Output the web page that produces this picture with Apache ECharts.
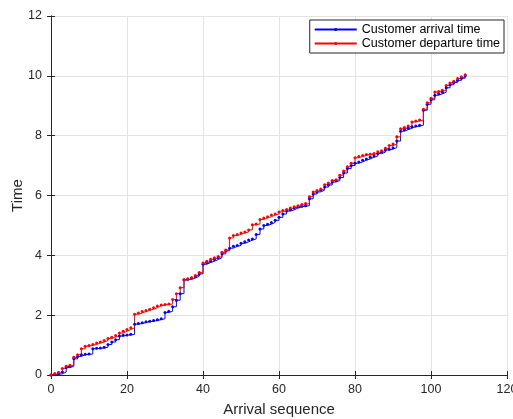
<!DOCTYPE html>
<html>
<head>
<meta charset="utf-8">
<style>
  html, body { margin: 0; padding: 0; background: #fff; }
  #chart { width: 513px; height: 419px; }
</style>
<script src="https://cdn.jsdelivr.net/npm/echarts@6/dist/echarts.min.js"></script>
</head>
<body>
<div id="chart"></div>
<script>
// arrival sequence index 0..109
const seq = Array.from({ length: 110 }, (_, i) => i);

const arrival = [
  0, 0.02, 0.04, 0.10, 0.25, 0.29, 0.54, 0.62, 0.68, 0.69,
  0.70, 0.88, 0.89, 0.90, 0.93, 1.02, 1.10, 1.18, 1.30, 1.33,
  1.34, 1.36, 1.70, 1.72, 1.75, 1.78, 1.80, 1.82, 1.85, 1.88,
  2.09, 2.13, 2.28, 2.50, 2.72, 3.18, 3.20, 3.24, 3.30, 3.38,
  3.70, 3.76, 3.80, 3.86, 3.92, 4.05, 4.15, 4.24, 4.30, 4.33,
  4.40, 4.45, 4.51, 4.55, 4.70, 4.88, 5.00, 5.04, 5.10, 5.17,
  5.27, 5.38, 5.48, 5.52, 5.58, 5.62, 5.64, 5.66, 5.89, 6.05,
  6.12, 6.18, 6.28, 6.35, 6.45, 6.50, 6.60, 6.75, 6.90, 7.00,
  7.08, 7.12, 7.18, 7.22, 7.28, 7.32, 7.40, 7.45, 7.52, 7.55,
  7.60, 7.82, 8.15, 8.20, 8.25, 8.30, 8.32, 8.35, 8.85, 9.05,
  9.20, 9.35, 9.40, 9.45, 9.60, 9.70, 9.78, 9.85, 9.92, 10.00
];

const departure = [
  0, 0.05, 0.09, 0.22, 0.29, 0.33, 0.59, 0.68, 0.88, 0.96,
  0.99, 1.02, 1.07, 1.10, 1.15, 1.22, 1.26, 1.32, 1.40, 1.46,
  1.52, 1.58, 2.03, 2.07, 2.12, 2.16, 2.20, 2.25, 2.31, 2.34,
  2.36, 2.37, 2.52, 2.72, 2.92, 3.18, 3.22, 3.25, 3.33, 3.43,
  3.74, 3.80, 3.87, 3.92, 3.96, 4.10, 4.18, 4.58, 4.66, 4.70,
  4.75, 4.78, 4.85, 5.02, 5.05, 5.20, 5.25, 5.29, 5.35, 5.38,
  5.45, 5.50, 5.53, 5.58, 5.62, 5.66, 5.70, 5.73, 5.96, 6.12,
  6.17, 6.22, 6.36, 6.42, 6.50, 6.53, 6.68, 6.82, 6.96, 7.08,
  7.26, 7.30, 7.34, 7.37, 7.38, 7.40, 7.46, 7.50, 7.58, 7.67,
  7.72, 7.96, 8.23, 8.27, 8.32, 8.46, 8.49, 8.52, 8.88, 9.10,
  9.25, 9.46, 9.48, 9.52, 9.68, 9.76, 9.82, 9.91, 9.97, 10.04
];

const seriesNames = ["Customer arrival time", "Customer departure time"];
const colors = ["#0000ff", "#ff0000"];
const axisColor = "#262626";
const font = "'Liberation Sans', Arial, sans-serif";

const chart = echarts.init(document.getElementById("chart"));

const boxAxis = {
  type: "value",
  axisLine: { show: true, lineStyle: { color: axisColor, width: 1 } },
  axisTick: { show: true, inside: true, length: 4, lineStyle: { color: axisColor } },
  axisLabel: { show: false },
  splitLine: { show: false }
};

chart.setOption({
  animation: false,
  color: colors,
  grid: { left: 51, right: 6, top: 16, bottom: 44, containLabel: false, outerBoundsMode: "none" },
  legend: {
    data: seriesNames,
    orient: "vertical",
    right: 9,
    top: 20,
    padding: [3, 4, 3, 4],
    itemGap: 1,
    itemWidth: 42,
    itemHeight: 4,
    backgroundColor: "#fff",
    borderColor: axisColor,
    borderWidth: 1,
    borderRadius: 0,
    textStyle: { fontFamily: font, fontSize: 12.5, color: "#000" }
  },
  xAxis: [
    {
      type: "value",
      min: 0,
      max: 120,
      interval: 20,
      name: "Arrival sequence",
      nameLocation: "middle",
      nameGap: 27,
      nameMoveOverlap: false,
      nameTextStyle: { fontFamily: font, fontSize: 15, color: axisColor },
      axisLine: { show: true, onZero: false, lineStyle: { color: axisColor, width: 1 } },
      axisTick: { show: true, inside: true, length: 4, lineStyle: { color: axisColor } },
      axisLabel: { fontFamily: font, fontSize: 12.5, color: axisColor, margin: 8 },
      splitLine: { show: true, lineStyle: { color: "#e3e3e3", width: 1 } }
    },
    Object.assign({}, boxAxis, { min: 0, max: 120, interval: 20, position: "top" })
  ],
  yAxis: [
    {
      type: "value",
      min: 0,
      max: 12,
      interval: 2,
      name: "Time",
      nameLocation: "middle",
      nameGap: 26,
      nameMoveOverlap: false,
      nameTextStyle: { fontFamily: font, fontSize: 15, color: axisColor },
      axisLine: { show: true, onZero: false, lineStyle: { color: axisColor, width: 1 } },
      axisTick: { show: true, inside: true, length: 4, lineStyle: { color: axisColor } },
      axisLabel: { fontFamily: font, fontSize: 12.5, color: axisColor, margin: 9 },
      splitLine: { show: true, lineStyle: { color: "#e3e3e3", width: 1 } }
    },
    Object.assign({}, boxAxis, { min: 0, max: 12, interval: 2, position: "right" })
  ],
  series: [
    {
      name: seriesNames[0],
      type: "line",
      step: "end",
      data: seq.map((x, i) => [x, arrival[i]]),
      symbol: "circle",
      symbolSize: 3,
      lineStyle: { width: 1, color: colors[0] },
      itemStyle: { color: colors[0] }
    },
    {
      name: seriesNames[1],
      type: "line",
      step: "end",
      data: seq.map((x, i) => [x, departure[i]]),
      symbol: "circle",
      symbolSize: 3,
      lineStyle: { width: 1, color: colors[1] },
      itemStyle: { color: colors[1] }
    }
  ]
});
</script>
</body>
</html>
